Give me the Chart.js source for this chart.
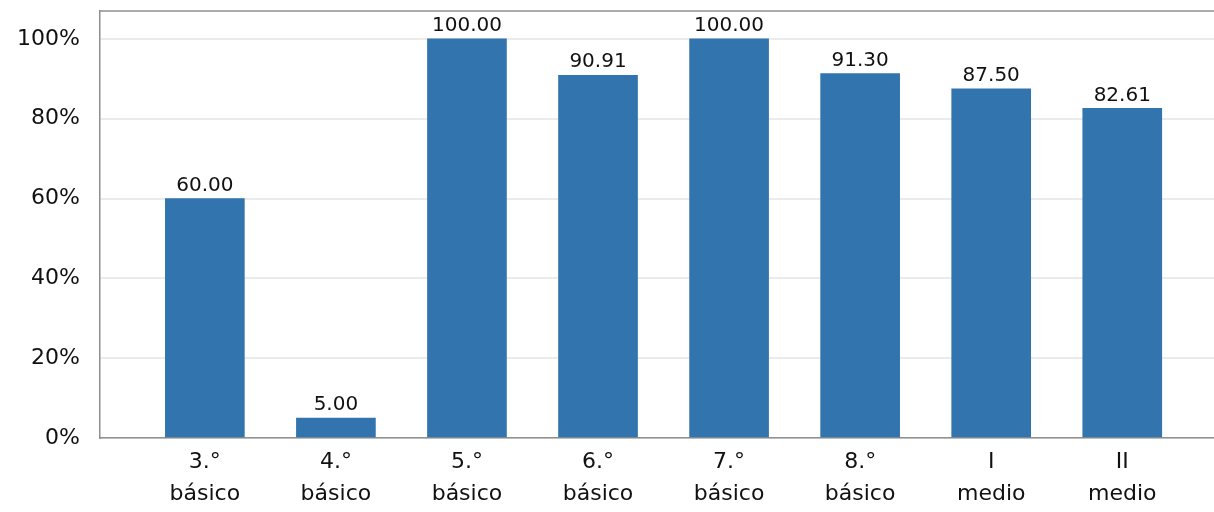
<!DOCTYPE html>
<html>
<head>
<meta charset="utf-8">
<script src="https://cdn.jsdelivr.net/npm/chart.js@4/dist/chart.umd.min.js"></script>
<style>
  html, body { margin: 0; padding: 0; background: #fff; }
  #wrap { width: 1214px; height: 512px; position: relative; }
</style>
</head>
<body>
<div id="wrap"><canvas id="chart"></canvas></div>
<script>
// chart data
const categories = [
  ['3.°', 'básico'], ['4.°', 'básico'], ['5.°', 'básico'], ['6.°', 'básico'],
  ['7.°', 'básico'], ['8.°', 'básico'], ['I', 'medio'], ['II', 'medio']
];
const values = [60.00, 5.00, 100.00, 90.91, 100.00, 91.30, 87.50, 82.61];
const yTicks = [0, 20, 40, 60, 80, 100];

const barColor = '#3274ad';
const textColor = '#111';
const fontFamily = '"DejaVu Sans", sans-serif';

// value labels above each bar
const valueLabels = {
  id: 'valueLabels',
  afterDatasetsDraw(chart) {
    const ctx = chart.ctx;
    const meta = chart.getDatasetMeta(0);
    ctx.save();
    ctx.font = '20px ' + fontFamily;
    ctx.fillStyle = textColor;
    ctx.textAlign = 'center';
    ctx.textBaseline = 'bottom';
    meta.data.forEach((bar, i) => {
      ctx.fillText(values[i].toFixed(2), bar.x, bar.y - 3);
    });
    ctx.restore();
  }
};

// thin frame line at the top of the plot
const topBorder = {
  id: 'topBorder',
  afterDraw(chart) {
    const a = chart.chartArea;
    const ctx = chart.ctx;
    ctx.save();
    ctx.strokeStyle = '#8f8f8f';
    ctx.lineWidth = 1.5;
    ctx.beginPath();
    ctx.moveTo(a.left, a.top);
    ctx.lineTo(a.right, a.top);
    ctx.stroke();
    ctx.restore();
  }
};

const points = values.map((v, i) => ({ x: i, y: v }));

new Chart(document.getElementById('chart'), {
  type: 'bar',
  data: {
    datasets: [{
      data: points,
      backgroundColor: barColor,
      borderWidth: 0,
      barThickness: 79
    }]
  },
  options: {
    responsive: true,
    maintainAspectRatio: false,
    animation: false,
    layout: { padding: { top: 11, right: 0, left: 0, bottom: 0 } },
    plugins: {
      legend: { display: false },
      tooltip: { enabled: false }
    },
    scales: {
      x: {
        type: 'linear',
        offset: false,
        min: -0.8,
        max: 7.7,
        afterBuildTicks(scale) {
          scale.ticks = categories.map((c, i) => ({ value: i }));
        },
        afterFit(scale) {
          scale.height = 74;
          scale.paddingLeft = 0;
          scale.paddingRight = 0;
        },
        ticks: {
          callback: (v) => categories[v],
          color: textColor,
          font: { family: fontFamily, size: 22, lineHeight: 1.45 },
          padding: 8,
          maxRotation: 0,
          autoSkip: false
        },
        grid: { display: false, drawTicks: false },
        border: { display: true, color: '#8f8f8f', width: 1.5 }
      },
      y: {
        min: 0,
        max: 107,
        afterBuildTicks(scale) {
          scale.ticks = yTicks.map(v => ({ value: v }));
        },
        afterFit(scale) {
          scale.width = 100;
          scale.paddingTop = 0;
          scale.paddingBottom = 0;
        },
        ticks: {
          callback: (v) => v + '%',
          color: textColor,
          font: { family: fontFamily, size: 22 },
          padding: 20
        },
        grid: { color: '#ebebeb', lineWidth: 2, drawTicks: false },
        border: { display: true, color: '#8f8f8f', width: 1.5 }
      }
    }
  },
  plugins: [valueLabels, topBorder]
});
</script>
</body>
</html>
